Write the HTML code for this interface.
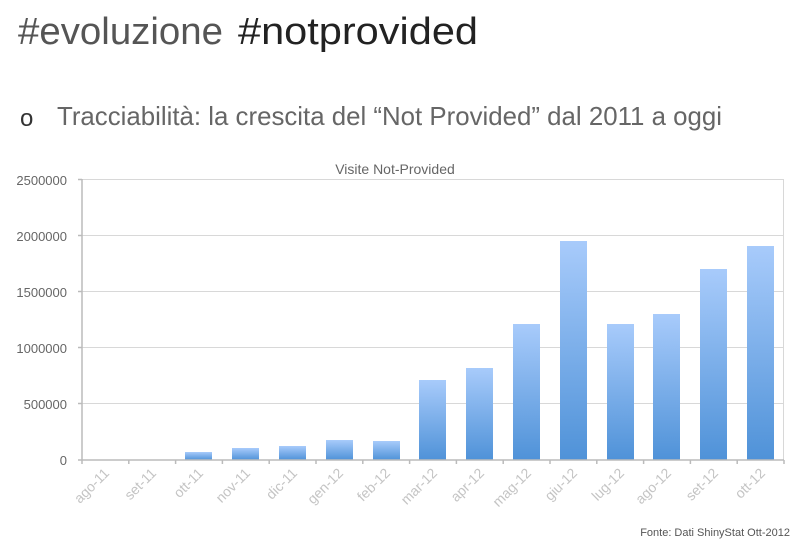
<!DOCTYPE html>
<html><head><meta charset="utf-8"><style>
html,body{margin:0;padding:0;background:#fff;}
svg{display:block;font-family:"Liberation Sans",sans-serif;}
</style></head><body>
<svg width="800" height="544" viewBox="0 0 800 544" xmlns="http://www.w3.org/2000/svg">
<defs>
<linearGradient id="g" x1="0" y1="0" x2="0" y2="1">
<stop offset="0" stop-color="#a8cbfb"/><stop offset="1" stop-color="#4f92d8"/>
</linearGradient>
</defs>
<text x="18" y="44" font-size="38" fill="#555" textLength="205" lengthAdjust="spacingAndGlyphs">#evoluzione</text>
<text x="238" y="44" font-size="38" fill="#222" textLength="240" lengthAdjust="spacingAndGlyphs">#notprovided</text>
<text x="20" y="126" font-size="24" fill="#333">o</text>
<text x="57" y="125" font-size="26" fill="#666" textLength="665" lengthAdjust="spacingAndGlyphs">Tracciabilità: la crescita del “Not Provided” dal 2011 a oggi</text>
<text x="395" y="174" font-size="14" fill="#666" text-anchor="middle">Visite Not-Provided</text>
<g stroke="#d8d8d8" stroke-width="1">
<line x1="82" y1="179.5" x2="784" y2="179.5"/>
<line x1="82" y1="235.5" x2="784" y2="235.5"/>
<line x1="82" y1="291.5" x2="784" y2="291.5"/>
<line x1="82" y1="347.5" x2="784" y2="347.5"/>
<line x1="82" y1="403.5" x2="784" y2="403.5"/>
<line x1="783.5" y1="179" x2="783.5" y2="460"/>
</g>
<g fill="url(#g)">
<rect x="185" y="452" width="27" height="8"/>
<rect x="232" y="448" width="27" height="12"/>
<rect x="279" y="446" width="27" height="14"/>
<rect x="326" y="440" width="27" height="20"/>
<rect x="373" y="441" width="27" height="19"/>
<rect x="419" y="380" width="27" height="80"/>
<rect x="466" y="368" width="27" height="92"/>
<rect x="513" y="324" width="27" height="136"/>
<rect x="560" y="241" width="27" height="219"/>
<rect x="607" y="324" width="27" height="136"/>
<rect x="653" y="314" width="27" height="146"/>
<rect x="700" y="269" width="27" height="191"/>
<rect x="747" y="246" width="27" height="214"/>
</g>
<g stroke="#bbb" stroke-width="1.5">
<line x1="82" y1="179" x2="82" y2="464"/>
<line x1="82" y1="460" x2="784" y2="460"/>
<line x1="78" y1="179.5" x2="82" y2="179.5"/><line x1="78" y1="235.5" x2="82" y2="235.5"/>
<line x1="78" y1="291.5" x2="82" y2="291.5"/><line x1="78" y1="347.5" x2="82" y2="347.5"/>
<line x1="78" y1="403.5" x2="82" y2="403.5"/><line x1="78" y1="460" x2="82" y2="460"/>
<line x1="128.8" y1="460" x2="128.8" y2="464"/><line x1="175.6" y1="460" x2="175.6" y2="464"/>
<line x1="222.4" y1="460" x2="222.4" y2="464"/><line x1="269.2" y1="460" x2="269.2" y2="464"/>
<line x1="316" y1="460" x2="316" y2="464"/><line x1="362.8" y1="460" x2="362.8" y2="464"/>
<line x1="409.6" y1="460" x2="409.6" y2="464"/><line x1="456.4" y1="460" x2="456.4" y2="464"/>
<line x1="503.2" y1="460" x2="503.2" y2="464"/><line x1="550" y1="460" x2="550" y2="464"/>
<line x1="596.8" y1="460" x2="596.8" y2="464"/><line x1="643.6" y1="460" x2="643.6" y2="464"/>
<line x1="690.4" y1="460" x2="690.4" y2="464"/><line x1="737.2" y1="460" x2="737.2" y2="464"/>
<line x1="784" y1="460" x2="784" y2="464"/>
</g>
<g font-size="13" fill="#666" text-anchor="end">
<text x="67" y="185">2500000</text>
<text x="67" y="241">2000000</text>
<text x="67" y="297">1500000</text>
<text x="67" y="353">1000000</text>
<text x="67" y="409">500000</text>
<text x="67" y="465">0</text>
</g>
<g font-size="14" fill="#c4c4c4" text-anchor="end">
<text transform="translate(110,474) rotate(-45)">ago-11</text>
<text transform="translate(157,474) rotate(-45)">set-11</text>
<text transform="translate(204,474) rotate(-45)">ott-11</text>
<text transform="translate(251,474) rotate(-45)">nov-11</text>
<text transform="translate(298,474) rotate(-45)">dic-11</text>
<text transform="translate(344,474) rotate(-45)">gen-12</text>
<text transform="translate(391,474) rotate(-45)">feb-12</text>
<text transform="translate(438,474) rotate(-45)">mar-12</text>
<text transform="translate(485,474) rotate(-45)">apr-12</text>
<text transform="translate(532,474) rotate(-45)">mag-12</text>
<text transform="translate(578,474) rotate(-45)">giu-12</text>
<text transform="translate(625,474) rotate(-45)">lug-12</text>
<text transform="translate(672,474) rotate(-45)">ago-12</text>
<text transform="translate(719,474) rotate(-45)">set-12</text>
<text transform="translate(766,474) rotate(-45)">ott-12</text>
</g>
<text x="790" y="536" font-size="11" fill="#555" text-anchor="end">Fonte: Dati ShinyStat Ott-2012</text>
</svg>
</body></html>
